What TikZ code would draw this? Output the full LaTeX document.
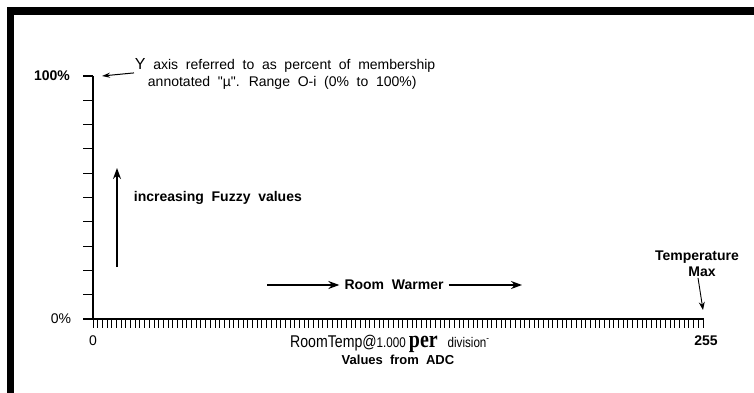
\documentclass[tikz,border=0pt]{standalone}
\usepackage{fontspec}
\setmainfont{Liberation Sans}
\newfontfamily\perfont{Liberation Serif}
\newfontfamily\plainsans{Liberation Sans}
\usetikzlibrary{arrows.meta}
\newcommand\widesp{\spaceskip 0.55em\relax}
\newcommand\dq{{\plainsans"}}
\tikzset{
  lbl/.style={inner sep=0.75pt, font=\fontsize{14}{16}\selectfont\bfseries\widesp},
  lblrm/.style={inner sep=0.75pt, font=\fontsize{14}{16}\selectfont\widesp},
  arr/.style={line width=1.3pt, -{Stealth[length=11pt,width=8pt]}},
}
\begin{document}
\begin{tikzpicture}[x=1pt, y=-1pt]
\useasboundingbox (0,0) rectangle (754,393);
\fill (7,7) rectangle (754,15);
\fill (7,7) rectangle (14,393);

\draw [line width=1.2pt] (93,76) -- (93,319) -- (704,319);
\foreach \i in {0,...,10} \draw [line width=1.1pt] (83,76+24.3*\i) -- (93,76+24.3*\i);
\foreach \i in {0,...,130} \draw [line width=0.9pt] (93+4.692*\i,319) -- (93+4.692*\i,328);

\node (hundred) at (52,76) [lbl] {100\%};
\node (zero) at (61,319) [lblrm] {0\%};

\node (yaxis1) at (134,65) [lblrm, anchor=west] {{\fontsize{16}{16}\selectfont Y} axis referred to as percent of membership};
\node (yaxis2) at (147,83) [lblrm, anchor=west] {annotated \dq µ\dq. Range O-i (0\% to 100\%)};
\coordinate (top) at (102,76);
\draw [arr, line width=1pt, -{Stealth[length=8pt,width=5pt]}] (yaxis1.south west) -- (top);

\coordinate (fzlo) at (117,267);
\coordinate (fzhi) at (117,168);
\draw [arr] (fzlo) -- (fzhi);
\node (fuzzy) at (133,198) [lbl, anchor=west] {increasing Fuzzy values};

\node (warm) at (394,285) [lbl, inner sep=5pt] {Room Warmer};
\coordinate (wl) at (267,285);
\coordinate (wr) at (522,285);
\draw [arr] (wl) -- (warm.west);
\draw [arr] (warm.east) -- (wr);

\node (tmax) at (697,264) [lbl, align=center] {Temperature\\\hspace*{10pt}Max};
\coordinate (maxpt) at (703,310);
\draw [arr, line width=0.9pt, -{Stealth[length=8pt,width=6pt]}] ([xshift=1pt]tmax.south) -- (maxpt);

\node (xzero) at (93,341) [lblrm] {0};
\node (xmax) at (706,341) [lbl] {255};
\node (unit) at (290,347) [anchor=base west, inner sep=0pt] {\scalebox{0.83}[1]{{\fontsize{17}{19}\selectfont RoomTemp@}{\fontsize{14}{16}\selectfont 1.000 }{\perfont\bfseries\fontsize{24}{26}\selectfont per}\hspace{12pt}{\fontsize{14}{16}\selectfont division\textsuperscript{-}}}};
\node (adc) at (398,360) [lbl, font=\fontsize{13}{15}\selectfont\bfseries\widesp] {Values from ADC};
\end{tikzpicture}
\end{document}
